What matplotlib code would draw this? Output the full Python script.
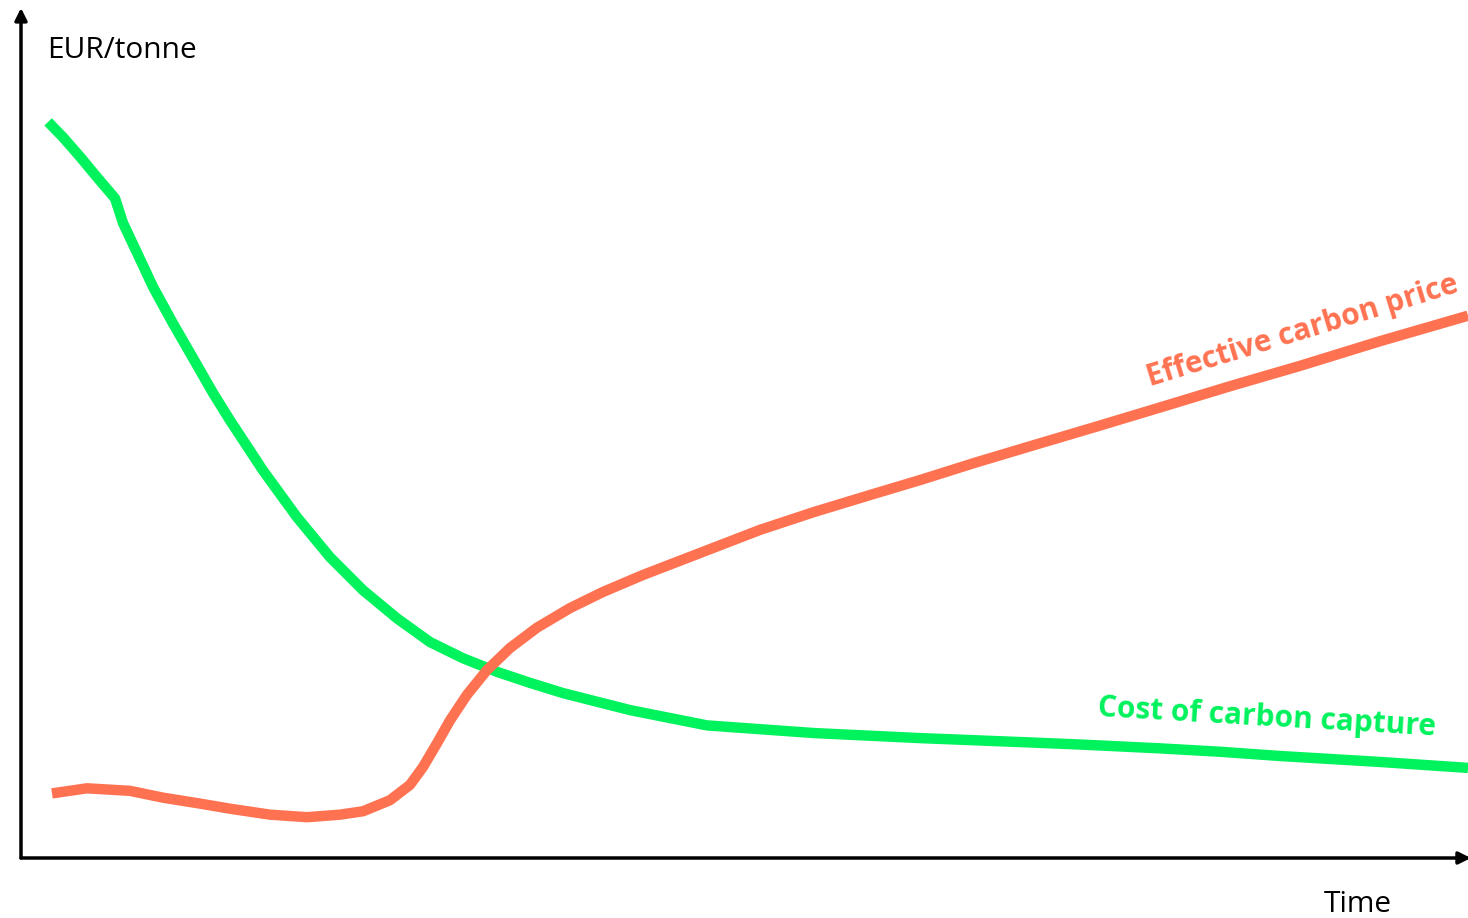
import matplotlib
matplotlib.use('Agg')
import matplotlib.pyplot as plt

plt.rcParams['font.family'] = ['Open Sans', 'DejaVu Sans']

# time axis (0-100) and price (0-100)
capture_time = [1.87, 2.90, 4.08, 5.25, 6.50, 7.05, 8.02, 9.12, 10.50, 11.89, 13.27, 14.44,
                16.72, 19.07, 21.35, 23.64, 25.98, 28.27, 30.55, 32.90, 35.18, 37.46,
                42.09, 47.41, 54.80, 62.20, 69.66, 73.19, 78.71, 82.86, 87.01, 93.92, 100.0]
capture_cost = [86.6, 84.8, 82.5, 80.1, 77.6, 74.7, 71.2, 67.2, 62.9, 58.8, 54.7, 51.5,
                45.6, 40.1, 35.4, 31.5, 28.2, 25.4, 23.5, 21.9, 20.6, 19.4,
                17.4, 15.6, 14.7, 14.1, 13.6, 13.35, 12.9, 12.5, 12.0, 11.3, 10.6]

price_time = [2.14, 4.56, 7.53, 9.81, 12.37, 14.44, 17.21, 19.77, 22.05, 23.64, 25.50,
              26.88, 27.78, 28.75, 29.65, 30.82, 32.20, 33.79, 35.66, 37.94, 40.22,
              42.99, 47.41, 51.07, 54.80, 58.67, 62.20, 65.93, 69.66, 74.22, 78.71,
              83.55, 88.39, 93.92, 100.0]
carbon_price = [7.6, 8.2, 7.9, 7.1, 6.4, 5.8, 5.1, 4.8, 5.1, 5.5, 6.8,
                8.6, 10.7, 13.5, 16.2, 19.2, 22.1, 24.7, 27.1, 29.4, 31.3,
                33.3, 36.2, 38.6, 40.7, 42.7, 44.5, 46.5, 48.4, 50.7, 53.0,
                55.5, 57.9, 60.8, 63.8]

GREEN = '#00F25C'
ORANGE = '#FF7251'

W, H = 1468, 918
fig = plt.figure(figsize=(W / 100, H / 100), dpi=100)
ax = fig.add_axes([21 / W, 60 / H, 1447 / W, 850 / H])
ax.set_xlim(0, 100)
ax.set_ylim(0, 100)
ax.axis('off')

ax.plot(capture_time, capture_cost, color=GREEN, lw=7.5, solid_capstyle='butt',
        solid_joinstyle='round', clip_on=False)
ax.plot(price_time, carbon_price, color=ORANGE, lw=7.5, solid_capstyle='butt',
        solid_joinstyle='round', clip_on=False)

# axes drawn as arrows
arrow = dict(arrowstyle='-|>', lw=2.5, color='black', mutation_scale=18,
             shrinkA=0, shrinkB=0)
ax.annotate('', xy=(0, 1), xytext=(0, 0), xycoords='axes fraction',
            arrowprops=arrow, annotation_clip=False)
ax.annotate('', xy=(1.002, 0), xytext=(0, 0), xycoords='axes fraction',
            arrowprops=arrow, annotation_clip=False)

fig.text(47 / W, 1 - 51 / H, 'EUR/tonne', fontsize=21.5, ha='left', va='center')
fig.text(1358 / W, 1 - 905 / H, 'Time', fontsize=21.5, ha='center', va='center')

fig.text(1303 / W, 1 - 331 / H, 'Effective carbon price', fontsize=21.5, fontweight='bold',
         color=ORANGE, rotation=17, rotation_mode='anchor', ha='center', va='center')
fig.text(1267 / W, 1 - 718 / H, 'Cost of carbon capture', fontsize=21.5, fontweight='bold',
         color=GREEN, rotation=-3.3, rotation_mode='anchor', ha='center', va='center')

fig.savefig('out.png', dpi=100, facecolor='white')
